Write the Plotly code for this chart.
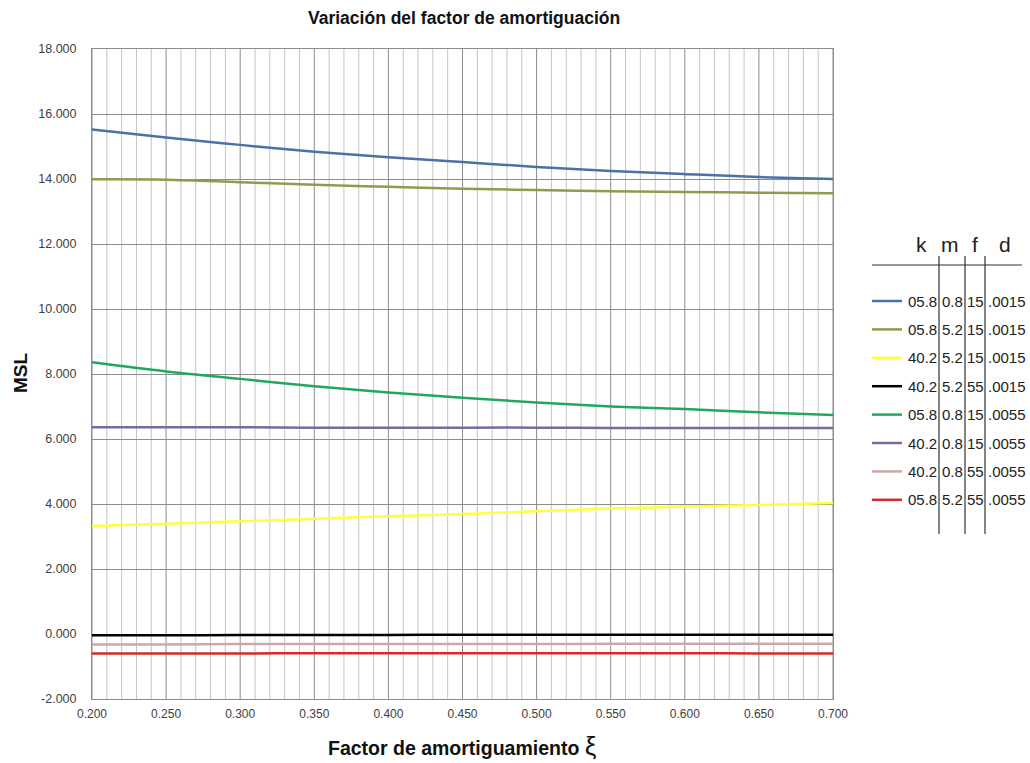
import plotly.graph_objects as go

xi = [0.20, 0.25, 0.30, 0.35, 0.40, 0.45, 0.50, 0.55, 0.60, 0.65, 0.70]

k_vals = ["05.8", "05.8", "40.2", "40.2", "05.8", "40.2", "40.2", "05.8"]
m_vals = ["0.8", "5.2", "5.2", "5.2", "0.8", "0.8", "0.8", "5.2"]
f_vals = ["15", "15", "15", "55", "15", "15", "55", "55"]
d_vals = [".0015", ".0015", ".0015", ".0015", ".0055", ".0055", ".0055", ".0055"]

s1 = [15.52, 15.28, 15.05, 14.84, 14.67, 14.52, 14.37, 14.25, 14.15, 14.06, 14.00]
s2 = [13.99, 13.98, 13.90, 13.82, 13.76, 13.70, 13.66, 13.62, 13.60, 13.58, 13.56]
s3 = [3.32, 3.39, 3.47, 3.55, 3.62, 3.69, 3.78, 3.86, 3.92, 3.97, 4.03]
s4 = [-0.04, -0.04, -0.03, -0.03, -0.03, -0.02, -0.02, -0.02, -0.02, -0.02, -0.02]
s5 = [8.36, 8.08, 7.85, 7.62, 7.43, 7.27, 7.12, 7.00, 6.92, 6.82, 6.74]
s6 = [6.36, 6.36, 6.36, 6.35, 6.35, 6.35, 6.35, 6.34, 6.34, 6.34, 6.34]
s7 = [-0.32, -0.32, -0.31, -0.31, -0.31, -0.31, -0.31, -0.30, -0.30, -0.30, -0.30]
s8 = [-0.60, -0.60, -0.60, -0.59, -0.59, -0.59, -0.59, -0.59, -0.59, -0.60, -0.60]

series = [s1, s2, s3, s4, s5, s6, s7, s8]
colors = ["#4a72a8", "#8c9e4c", "#ffff40", "#000000", "#21a85e", "#7b6aa0", "#c9a9a9", "#d42a2a"]

y_ticks = [-2, 0, 2, 4, 6, 8, 10, 12, 14, 16, 18]
x_ticks = [0.20, 0.25, 0.30, 0.35, 0.40, 0.45, 0.50, 0.55, 0.60, 0.65, 0.70]

fig = go.Figure()
for s, c in zip(series, colors):
    fig.add_trace(go.Scatter(x=xi, y=s, mode="lines", line=dict(color=c, width=2.5, shape="spline"),
                             showlegend=False, hoverinfo="x+y"))

W, H = 1030, 763
PL, PR, PT, PB = 92, 833, 49, 699  # plot area in page pixels

def px(x):
    return (x - PL) / (PR - PL)

def py(y):
    return (PB - y) / (PB - PT)

shapes = []
annos = []

def note(text, x, y, font, xanchor="center", **kw):
    annos.append(dict(text=text, x=px(x), y=py(y), xref="paper", yref="paper", showarrow=False,
                      xanchor=xanchor, yanchor="middle", font=font, **kw))

# vertical gridlines every 0.01, darker at major ticks
for i in range(51):
    xv = 0.2 + i * 0.01
    major = (i % 5 == 0)
    shapes.append(dict(type="line", xref="x", yref="paper", x0=xv, x1=xv, y0=0, y1=1,
                       line=dict(color="#8c8c8c" if major else "#c4c4c4", width=1), layer="below"))

# legend table
hdr_font = dict(family="Liberation Sans", size=21, color="#222222")
for t, xx in (("k", 921), ("m", 950), ("f", 975), ("d", 1005)):
    note(t, xx, 244, hdr_font)
shapes.append(dict(type="line", xref="paper", yref="paper", x0=px(872), x1=px(1022), y0=py(265), y1=py(265),
                   line=dict(color="#333333", width=1.2)))
for xv in (939, 965, 985):
    shapes.append(dict(type="line", xref="paper", yref="paper", x0=px(xv), x1=px(xv), y0=py(256), y1=py(534),
                       line=dict(color="#333333", width=1.2)))

row_font = dict(family="Liberation Sans", size=15, color="#222222")
for i in range(8):
    yy = 301 + i * 28.4
    shapes.append(dict(type="line", xref="paper", yref="paper", x0=px(872), x1=px(902), y0=py(yy), y1=py(yy),
                       line=dict(color=colors[i], width=2.5)))
    note(k_vals[i], 938.5, yy, row_font, xanchor="right")
    note(m_vals[i], 952, yy, row_font)
    note(f_vals[i], 975, yy, row_font)
    note(d_vals[i], 985.5, yy, row_font, xanchor="left")

# titles
note("<b>Variación del factor de amortiguación</b>", 464, 18,
     dict(family="Liberation Sans", size=17.5, color="#111111"))
note("<b>Factor de amortiguamiento</b> <span style='font-size:26px'>ξ</span>", 462, 746,
     dict(family="Liberation Sans", size=19.5, color="#111111"))
note("<b>MSL</b>", 20, 373, dict(family="Liberation Sans", size=19, color="#111111"), textangle=-90)

fig.update_layout(
    width=W, height=H,
    margin=dict(l=PL, r=W - PR, t=PT, b=H - PB, pad=0),
    paper_bgcolor="white", plot_bgcolor="white",
    font=dict(family="Liberation Sans", size=12, color="#404040"),
    xaxis=dict(range=[0.2, 0.7], tickvals=x_ticks, ticktext=[f"{v:.3f}" for v in x_ticks],
               showgrid=False, zeroline=False, showline=True, linecolor="#8c8c8c", mirror=True,
               ticks="", ticklabelstandoff=4, tickfont=dict(size=12, color="#404040")),
    yaxis=dict(range=[-2, 18], tickvals=y_ticks, ticktext=[f"{v:.3f}" for v in y_ticks],
               showgrid=True, gridcolor="#8c8c8c", gridwidth=1, zeroline=False, showline=True,
               linecolor="#8c8c8c", mirror=True, ticks="", ticklabelstandoff=12,
               tickfont=dict(size=12.5, color="#404040")),
    shapes=shapes,
    annotations=annos,
)

fig.write_html("out.html", config={"displayModeBar": False},
               post_script="document.body.style.margin='0';document.body.style.overflow='hidden';")
